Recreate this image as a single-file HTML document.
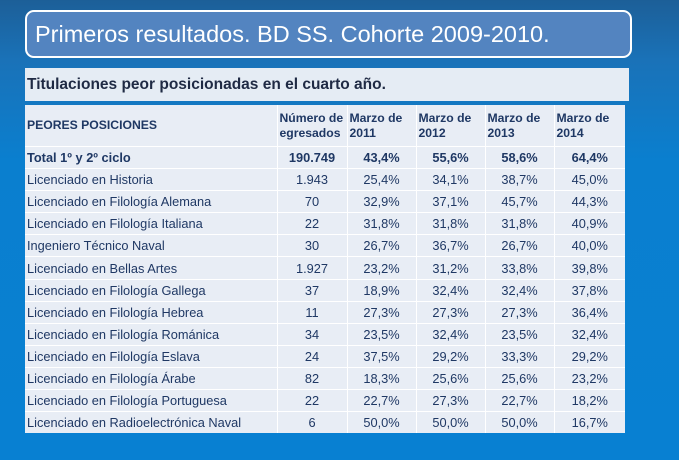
<!DOCTYPE html>
<html><head><meta charset="utf-8"><style>
body{margin:0;width:679px;height:460px;overflow:hidden;font-family:"Liberation Sans",sans-serif;background:linear-gradient(180deg,#1c5f98 0px,#1a72b8 60px,#0a7fcf 160px,#0880d2 460px);position:relative}
#title{position:absolute;left:25px;top:10px;height:44px;width:595px;background:#5384c0;border:2px solid #fff;border-radius:9px;color:#fff;font-size:23.5px;line-height:44px;padding-left:8px}
#sub{position:absolute;left:25px;top:68px;width:604px;height:33px;background:#e5ecf4;font-size:15.5px;font-weight:bold;color:#1f2a44;line-height:33px;padding-left:2px;box-sizing:border-box}
table{position:absolute;left:25px;top:105px;width:600px;table-layout:fixed;border-collapse:collapse;font-size:12.8px;color:#1f3864;background:#e8edf5}
td{padding:0 2px;height:21.1px;border-top:1px solid #fff;border-left:1px solid #fff;text-align:center;white-space:nowrap;overflow:hidden}
td:first-child{text-align:left;border-left:none}
tr.h td{height:41px;font-weight:bold;font-size:12.2px;text-align:left;line-height:15px;vertical-align:middle;border-top:none;white-space:normal}
tr.t td{font-weight:bold}
</style></head><body>
<div id="title">Primeros resultados. BD SS. Cohorte 2009-2010.</div>
<div id="sub">Titulaciones peor posicionadas en el cuarto año.</div>
<table>
<colgroup><col style="width:252px"><col style="width:70px"><col style="width:69px"><col style="width:69px"><col style="width:69px"><col style="width:71px"></colgroup>
<tr class="h"><td>PEORES POSICIONES</td><td>Número de egresados</td><td>Marzo de 2011</td><td>Marzo de 2012</td><td>Marzo de 2013</td><td>Marzo de 2014</td></tr>
<tr class="t"><td>Total 1º y 2º ciclo</td><td>190.749</td><td>43,4%</td><td>55,6%</td><td>58,6%</td><td>64,4%</td></tr>
<tr><td>Licenciado en Historia</td><td>1.943</td><td>25,4%</td><td>34,1%</td><td>38,7%</td><td>45,0%</td></tr>
<tr><td>Licenciado en Filología Alemana</td><td>70</td><td>32,9%</td><td>37,1%</td><td>45,7%</td><td>44,3%</td></tr>
<tr><td>Licenciado en Filología Italiana</td><td>22</td><td>31,8%</td><td>31,8%</td><td>31,8%</td><td>40,9%</td></tr>
<tr><td>Ingeniero Técnico Naval</td><td>30</td><td>26,7%</td><td>36,7%</td><td>26,7%</td><td>40,0%</td></tr>
<tr><td>Licenciado en Bellas Artes</td><td>1.927</td><td>23,2%</td><td>31,2%</td><td>33,8%</td><td>39,8%</td></tr>
<tr><td>Licenciado en Filología Gallega</td><td>37</td><td>18,9%</td><td>32,4%</td><td>32,4%</td><td>37,8%</td></tr>
<tr><td>Licenciado en Filología Hebrea</td><td>11</td><td>27,3%</td><td>27,3%</td><td>27,3%</td><td>36,4%</td></tr>
<tr><td>Licenciado en Filología Románica</td><td>34</td><td>23,5%</td><td>32,4%</td><td>23,5%</td><td>32,4%</td></tr>
<tr><td>Licenciado en Filología Eslava</td><td>24</td><td>37,5%</td><td>29,2%</td><td>33,3%</td><td>29,2%</td></tr>
<tr><td>Licenciado en Filología Árabe</td><td>82</td><td>18,3%</td><td>25,6%</td><td>25,6%</td><td>23,2%</td></tr>
<tr><td>Licenciado en Filología Portuguesa</td><td>22</td><td>22,7%</td><td>27,3%</td><td>22,7%</td><td>18,2%</td></tr>
<tr><td>Licenciado en Radioelectrónica Naval</td><td>6</td><td>50,0%</td><td>50,0%</td><td>50,0%</td><td>16,7%</td></tr>
</table>
</body></html>
